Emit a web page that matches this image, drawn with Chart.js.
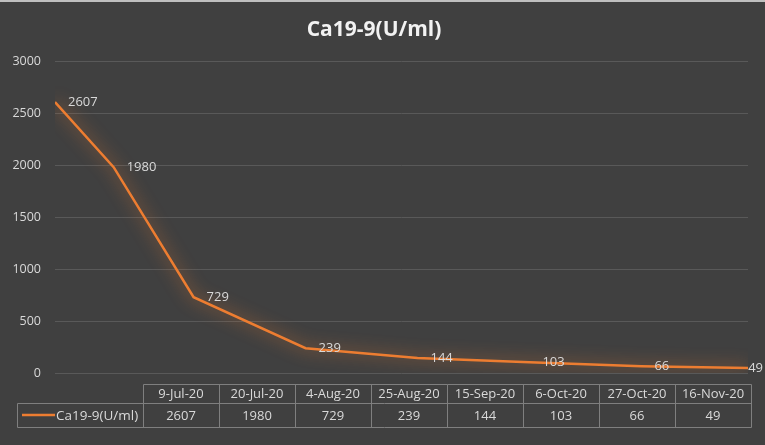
<!DOCTYPE html>
<html>
<head>
<meta charset="utf-8">
<script src="https://cdn.jsdelivr.net/npm/chart.js@4/dist/chart.umd.min.js"></script>
<style>
  html, body { margin: 0; padding: 0; background: #404040; }
  #wrap { width: 765px; height: 445px; position: relative; }
</style>
</head>
<body>
<div id="wrap"><canvas id="ca199Chart" width="765" height="445"></canvas></div>
<script>
// Chart data
const seriesName = 'Ca19-9(U/ml)';
const dateLabels = ['9-Jul-20', '20-Jul-20', '4-Aug-20', '25-Aug-20', '15-Sep-20', '6-Oct-20', '27-Oct-20', '16-Nov-20'];
const isoDates = ['2020-07-09', '2020-07-20', '2020-08-04', '2020-08-25', '2020-09-15', '2020-10-06', '2020-10-27', '2020-11-16'];
const caValues = [2607, 1980, 729, 239, 144, 103, 66, 49];
const yTicks = [0, 500, 1000, 1500, 2000, 2500, 3000];

const DAY = 24 * 3600 * 1000;
const start = Date.parse(isoDates[0]);
const dayOffsets = isoDates.map(d => Math.round((Date.parse(d) - start) / DAY));

const lineColor = '#ED7D31';
const textColor = '#d9d9d9';
const fontFamily = '"Open Sans", sans-serif';

// background fill
const bgPlugin = {
    id: 'bg',
    beforeDraw(chart) {
        const ctx = chart.ctx;
        ctx.save();
        ctx.fillStyle = '#404040';
        ctx.fillRect(0, 0, chart.width, chart.height);
        ctx.fillStyle = '#bfbfbf';
        ctx.fillRect(0, 0, chart.width, 2);
        ctx.restore();
    }
};

// orange glow under the line
const glowPlugin = {
    id: 'glow',
    beforeDatasetDraw(chart) {
        const ctx = chart.ctx;
        ctx.save();
        ctx.shadowColor = 'rgba(237, 125, 49, 0.9)';
        ctx.shadowBlur = 16;
    },
    afterDatasetDraw(chart) {
        chart.ctx.restore();
    }
};

// value labels to the right of each point
const valueLabels = {
    id: 'valueLabels',
    afterDatasetsDraw(chart) {
        const ctx = chart.ctx;
        const meta = chart.getDatasetMeta(0);
        ctx.save();
        ctx.font = '13px ' + fontFamily;
        ctx.fillStyle = textColor;
        ctx.textAlign = 'left';
        ctx.textBaseline = 'middle';
        meta.data.forEach((pt, i) => {
            const txt = String(caValues[i]);
            const w = ctx.measureText(txt).width;
            const x = Math.min(pt.x + 13, chart.width - w - 2);
            ctx.fillText(txt, x, pt.y);
        });
        ctx.restore();
    }
};

// data table under the plot
const dataTable = {
    id: 'dataTable',
    afterDraw(chart) {
        const ctx = chart.ctx;
        const left = 17, keyRight = 143, right = 751;
        const top = 384, mid = 403, bottom = 427;
        const colW = (right - keyRight) / dateLabels.length;
        ctx.save();
        ctx.strokeStyle = '#7f7f7f';
        ctx.lineWidth = 1;
        ctx.beginPath();
        ctx.moveTo(keyRight + 0.5, top + 0.5); ctx.lineTo(right + 0.5, top + 0.5);
        ctx.moveTo(left + 0.5, mid + 0.5); ctx.lineTo(right + 0.5, mid + 0.5);
        ctx.moveTo(left + 0.5, bottom + 0.5); ctx.lineTo(right + 0.5, bottom + 0.5);
        ctx.moveTo(left + 0.5, mid + 0.5); ctx.lineTo(left + 0.5, bottom + 0.5);
        for (let i = 0; i <= dateLabels.length; i++) {
            const x = Math.round(keyRight + i * colW) + 0.5;
            ctx.moveTo(x, top + 0.5); ctx.lineTo(x, bottom + 0.5);
        }
        ctx.stroke();

        ctx.font = '13px ' + fontFamily;
        ctx.fillStyle = textColor;
        ctx.textAlign = 'center';
        ctx.textBaseline = 'middle';
        dateLabels.forEach((lbl, i) => {
            const cx = keyRight + (i + 0.5) * colW;
            ctx.fillText(lbl, cx, (top + mid) / 2 + 1);
            ctx.fillText(String(caValues[i]), cx, (mid + bottom) / 2 + 1);
        });

        // legend key
        ctx.strokeStyle = lineColor;
        ctx.lineWidth = 2.5;
        ctx.beginPath();
        ctx.moveTo(22, 415); ctx.lineTo(55, 415);
        ctx.stroke();
        ctx.textAlign = 'left';
        ctx.font = '13.5px ' + fontFamily;
        ctx.fillText(seriesName, 56, (mid + bottom) / 2 + 1);
        ctx.restore();
    }
};

const ctx = document.getElementById('ca199Chart').getContext('2d');
new Chart(ctx, {
    type: 'line',
    data: {
        datasets: [{
            label: seriesName,
            data: dayOffsets.map((d, i) => ({ x: d, y: caValues[i] })),
            borderColor: lineColor,
            borderWidth: 2.5,
            pointRadius: 0,
            tension: 0,
            fill: false
        }]
    },
    options: {
        responsive: false,
        animation: false,
        devicePixelRatio: 1,
        layout: { padding: { left: 0, right: 17, top: 0, bottom: 72 } },
        plugins: {
            legend: { display: false },
            tooltip: { enabled: false },
            title: {
                display: true,
                text: seriesName,
                color: '#f2f2f2',
                font: { family: fontFamily, size: 21, weight: 'bold' },
                padding: { top: 17, bottom: 19 }
            }
        },
        scales: {
            x: {
                type: 'linear',
                min: dayOffsets[0],
                max: dayOffsets[dayOffsets.length - 1],
                display: false
            },
            y: {
                min: 0,
                max: 3000,
                afterBuildTicks(scale) {
                    scale.ticks = yTicks.map(v => ({ value: v }));
                },
                afterFit(scale) { scale.width = 55; },
                border: { display: false },
                grid: { color: '#595959', lineWidth: 1, drawTicks: false },
                ticks: {
                    color: textColor,
                    padding: 14,
                    font: { family: fontFamily, size: 12.5 },
                    callback: v => String(v)
                }
            }
        }
    },
    plugins: [bgPlugin, glowPlugin, valueLabels, dataTable]
});
</script>
</body>
</html>
